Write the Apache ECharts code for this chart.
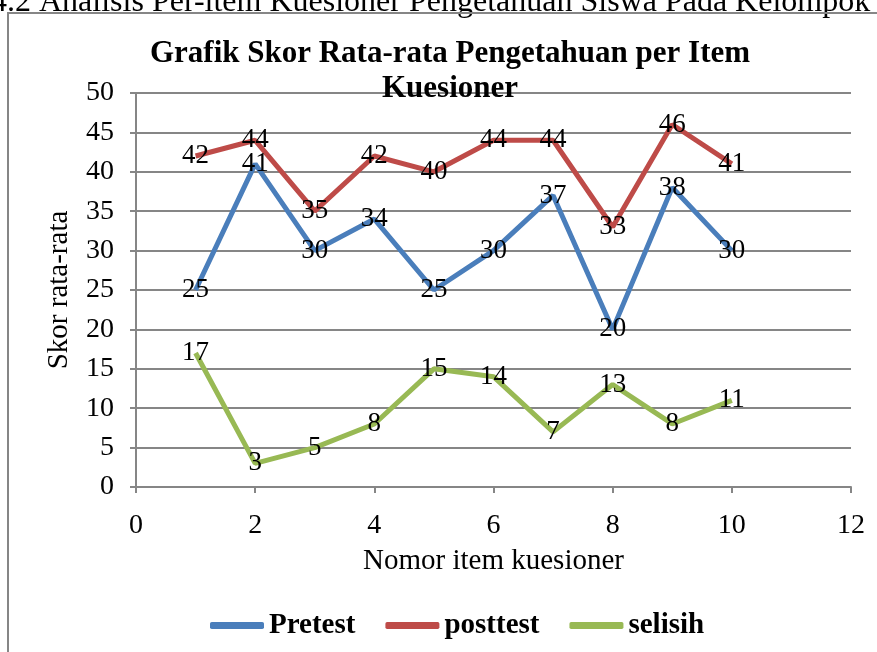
<!DOCTYPE html>
<html>
<head>
<meta charset="utf-8">
<script src="https://cdn.jsdelivr.net/npm/echarts@6/dist/echarts.min.js"></script>
<style>
  html, body { margin: 0; padding: 0; background: #fff; }
  #chart { width: 877px; height: 652px; }
</style>
</head>
<body>
<div id="chart"></div>
<script>
var items = [1, 2, 3, 4, 5, 6, 7, 8, 9, 10];
var pretest = [25, 41, 30, 34, 25, 30, 37, 20, 38, 30];
var posttest = [42, 44, 35, 42, 40, 44, 44, 33, 46, 41];
var selisih = [17, 3, 5, 8, 15, 14, 7, 13, 8, 11];
var seriesNames = ['Pretest', 'posttest', 'selisih'];
var seriesColors = ['#4a7ebb', '#be4b48', '#98b954'];

var serif = '"Liberation Serif", "DejaVu Serif", serif';
var gridGray = '#868686';

function pairs(vals) {
    return items.map(function (x, i) { return [x, vals[i]]; });
}

var chart = echarts.init(document.getElementById('chart'));
var option = {
    backgroundColor: '#fff',
    animation: false,
    graphic: [
        {
            type: 'text', x: -9, y: 19,
            style: { text: '4.2 Analisis Per-item Kuesioner Pengetahuan Siswa Pada Kelompok', font: '32px ' + serif, fill: '#000', verticalAlign: 'bottom' }
        },
        {
            type: 'rect', shape: { x: 8, y: 13, width: 1000, height: 1000 },
            style: { fill: 'none', stroke: gridGray, lineWidth: 2 }
        },
        {
            type: 'text', x: 450, y: 36, z: 100,
            style: { text: 'Grafik Skor Rata-rata Pengetahuan per Item\nKuesioner', font: 'bold 31px ' + serif, fill: '#000', align: 'center', lineHeight: 35 }
        }
    ],
    grid: { left: 136, right: 26, top: 93, bottom: 165 },
    legend: {
        left: 205, top: 606,
        itemWidth: 54, itemHeight: 7, itemGap: 30,
        icon: 'roundRect',
        textStyle: { fontFamily: serif, fontWeight: 'bold', fontSize: 29, color: '#000' },
        data: seriesNames
    },
    xAxis: {
        type: 'value', min: 0, max: 12, interval: 2,
        name: 'Nomor item kuesioner', nameLocation: 'middle', nameGap: 60,
        nameTextStyle: { fontFamily: serif, fontSize: 29, color: '#000' },
        axisLine: { lineStyle: { color: gridGray, width: 2 } },
        axisTick: { show: true, length: 6, lineStyle: { color: gridGray, width: 2 } },
        axisLabel: { fontFamily: serif, fontSize: 28, color: '#000', margin: 25 },
        splitLine: { show: false }
    },
    yAxis: {
        type: 'value', min: 0, max: 50, interval: 5,
        name: 'Skor rata-rata', nameLocation: 'middle', nameGap: 62,
        nameTextStyle: { fontFamily: serif, fontSize: 29, color: '#000' },
        axisLine: { show: true, lineStyle: { color: gridGray, width: 2 } },
        axisTick: { show: true, length: 6, lineStyle: { color: gridGray, width: 2 } },
        axisLabel: { fontFamily: serif, fontSize: 28, color: '#000', margin: 22 },
        splitLine: { lineStyle: { color: gridGray, width: 2 } }
    },
    series: [pretest, posttest, selisih].map(function (vals, i) {
        return {
            name: seriesNames[i], type: 'line', data: pairs(vals),
            symbol: 'circle', symbolSize: 0, showSymbol: true,
            color: seriesColors[i],
            lineStyle: { width: 5, color: seriesColors[i] },
            label: { show: true, position: 'inside', fontFamily: serif, fontSize: 27, color: '#000' },
            labelLayout: { hideOverlap: false }
        };
    })
};
chart.setOption(option);
</script>
</body>
</html>
